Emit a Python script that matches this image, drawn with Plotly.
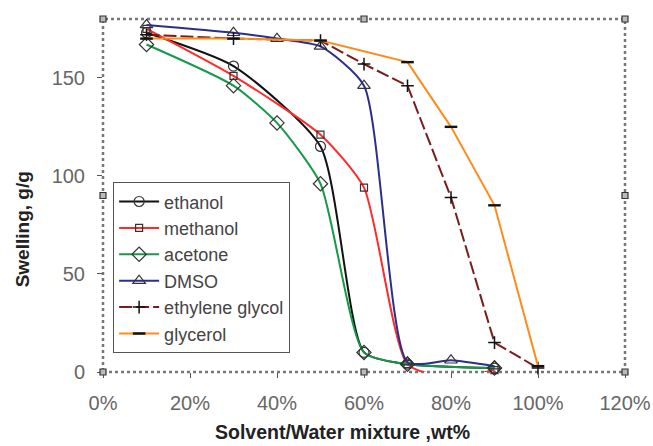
import plotly.graph_objects as go

# x: solvent fraction in mixture
x_ethanol = [0.10, 0.30, 0.50, 0.60, 0.70, 0.90]
y_ethanol = [173, 156, 115, 10, 4, 2]

x_methanol = [0.10, 0.30, 0.50, 0.60, 0.70, 0.80, 0.90]
y_methanol = [175, 151, 121, 94, 4, -3, 1]

x_acetone = [0.10, 0.30, 0.40, 0.50, 0.60, 0.70, 0.90]
y_acetone = [167, 146, 127, 96, 10, 4, 2]

x_dmso = [0.10, 0.30, 0.40, 0.50, 0.60, 0.70, 0.80, 0.90]
y_dmso = [177, 173, 170, 166, 146, 5, 6, 3]

x_eg = [0.10, 0.30, 0.50, 0.60, 0.70, 0.80, 0.90, 1.00]
y_eg = [172, 170, 169, 157, 146, 89, 15, 2]

x_gly = [0.10, 0.30, 0.50, 0.70, 0.80, 0.90, 1.00]
y_gly = [170, 170, 169, 158, 125, 85, 3]

x_ticks = [0, 0.2, 0.4, 0.6, 0.8, 1.0, 1.2]
y_ticks = [0, 50, 100, 150]

FONT = "Liberation Sans, Arial, sans-serif"

fig = go.Figure()

def add(name, xs, ys, color, symbol, size, shape="spline", dash="solid",
        mcolor="#333", mlw=1.2):
    fig.add_trace(go.Scatter(
        x=xs, y=ys, name=name, mode="lines+markers",
        line=dict(color=color, width=2, shape=shape, dash=dash, smoothing=0.6),
        marker=dict(symbol=symbol, size=size, color=mcolor,
                    line=dict(color=mcolor, width=mlw)),
        cliponaxis=False,
    ))

add("ethanol", x_ethanol, y_ethanol, "#111111", "circle-open", 10)
add("methanol", x_methanol, y_methanol, "#ff2a2a", "square-open", 7)
add("acetone", x_acetone, y_acetone, "#159a4a", "diamond-open", 11)
add("DMSO", x_dmso, y_dmso, "#2b2f8c", "triangle-up-open", 11)
add("ethylene glycol", x_eg, y_eg, "#7a1c1c", "cross-thin-open", 9, shape="linear",
    dash="13px,4px", mcolor="#111", mlw=1.5)
add("glycerol", x_gly, y_gly, "#ff8c1a", "line-ew-open", 9, shape="linear",
    mcolor="#111", mlw=2.4)

# Excel-style selection handles around the plot area (paper positions)
handles = [(0, 0), (0.5, 0), (1, 0), (0, 0.5), (1, 0.5), (0, 1), (0.5, 1), (1, 1)]
shapes = [
    dict(type="rect", xref="paper", yref="paper", x0=0, x1=1, y0=0, y1=1,
         line=dict(color="#777", width=2.5, dash="dot"), layer="below"),
]
for hx, hy in handles:
    shapes.append(dict(type="rect", xref="paper", yref="paper", xsizemode="pixel",
                       ysizemode="pixel", xanchor=hx, yanchor=hy,
                       x0=-3, x1=3, y0=-3, y1=3,
                       line=dict(color="#333", width=1.2), fillcolor="#bbb",
                       layer="above"))

fig.update_layout(
    width=653, height=446,
    margin=dict(l=103, r=28, t=19, b=74, autoexpand=False),
    paper_bgcolor="white", plot_bgcolor="white",
    font=dict(family=FONT, color="#666", size=19),
    showlegend=True,
    legend=dict(
        x=0.019, y=0.538, xanchor="left", yanchor="top",
        bgcolor="white", bordercolor="#555", borderwidth=1.2,
        font=dict(size=18, color="#444", family=FONT),
        itemwidth=40, tracegroupgap=0,
    ),
    xaxis=dict(
        range=[0, 1.2], tickvals=x_ticks, tickformat=".0%",
        showgrid=False, zeroline=False, showline=False,
        ticks="outside", ticklen=5, tickcolor="#555",
        tickfont=dict(size=20, color="#666"), ticklabelstandoff=8,
        automargin=False,
    ),
    yaxis=dict(
        range=[0, 180], tickvals=y_ticks,
        showgrid=False, zeroline=False, showline=False,
        ticks="outside", ticklen=5, tickcolor="#555",
        tickfont=dict(size=20, color="#666"), ticklabelstandoff=8,
        automargin=False,
    ),
    shapes=shapes,
    annotations=[
        dict(text="<b>Solvent/Water mixture ,wt%</b>", xref="paper", yref="paper",
             x=0.458, y=-0.17, xanchor="center", yanchor="middle", showarrow=False,
             font=dict(size=19.5, color="#222", family=FONT)),
        dict(text="<b>Swelling, g/g</b>", xref="paper", yref="paper",
             x=-0.1546, y=0.405, xanchor="center", yanchor="middle", showarrow=False,
             textangle=-90, font=dict(size=19, color="#222", family=FONT)),
    ],
)

for i, tr in enumerate(fig.data):
    tr.legendgroup = f"g{i}"

fig.write_html("out.html")
